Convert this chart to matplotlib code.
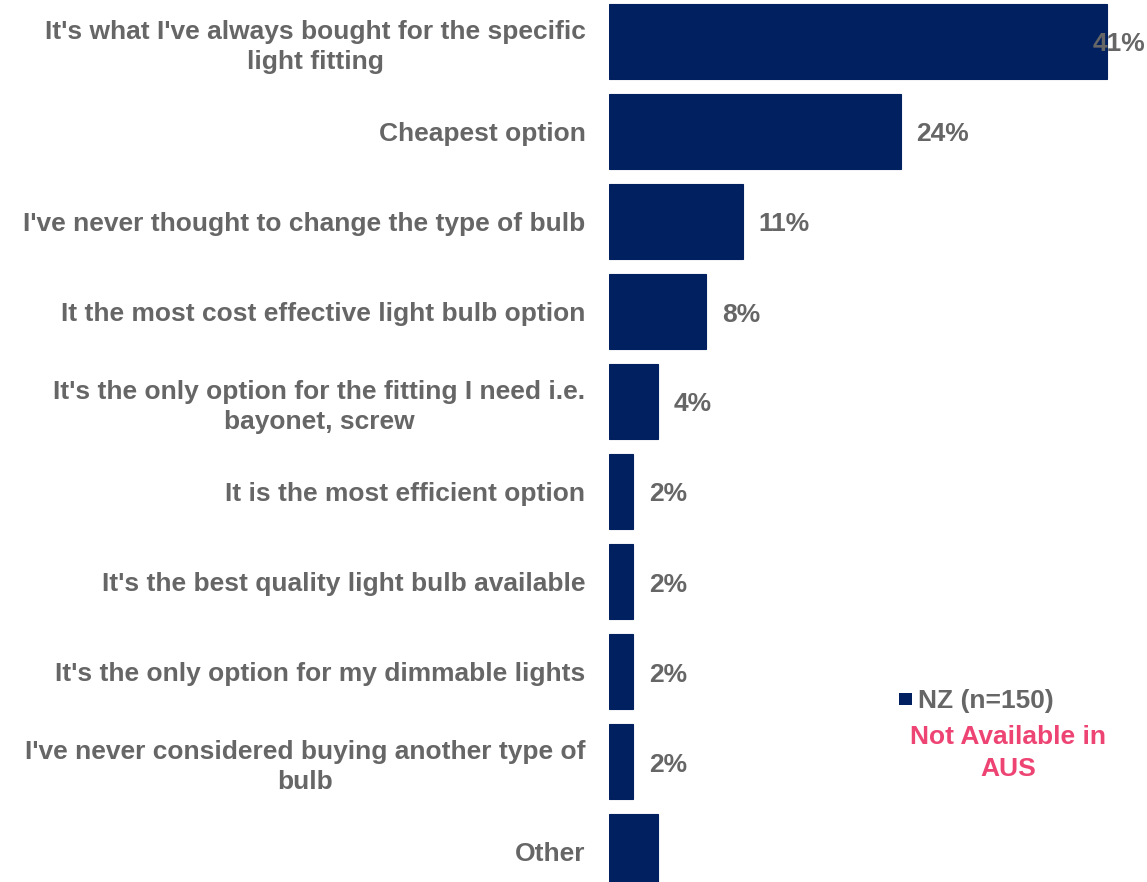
import matplotlib
matplotlib.use("Agg")
import matplotlib.pyplot as plt
from matplotlib.patches import Rectangle

plt.rcParams['font.family'] = ['Liberation Sans', 'DejaVu Sans']

categories = [
    "It's what I've always bought for the specific\nlight fitting",
    "Cheapest option",
    "I've never thought to change the type of bulb",
    "It the most cost effective light bulb option",
    "It's the only option for the fitting I need i.e.\nbayonet, screw",
    "It is the most efficient option",
    "It's the best quality light bulb available",
    "It's the only option for my dimmable lights",
    "I've never considered buying another type of\nbulb",
    "Other",
]
values = [41, 24, 11, 8, 4, 2, 2, 2, 2, 4]
value_labels = ["41%", "24%", "11%", "8%", "4%", "2%", "2%", "2%", "2%", None]

series_name = "NZ (n=150)"
note_text = "Not Available in\nAUS"

NAVY = "#002060"
GRAY = "#666666"
PINK = "#EE4473"
FS = 19

W, H = 1147, 882
fig = plt.figure(figsize=(W / 100, H / 100), dpi=100)
ax_left = 609 / W
ax = fig.add_axes([ax_left, 0, 1 - ax_left, 1])

px_per_unit = 12.15
xmax = (W - 609) / px_per_unit
ax.set_xlim(0, xmax)
# rows are 90 px apart; first row centred 41.5 px from the top
row_px = 90.0
top = -41.5 / row_px
bottom = (H - 41.5) / row_px
ax.set_ylim(bottom, top)

ypos = list(range(len(categories)))
ax.barh(ypos, values, height=75 / row_px, color=NAVY, edgecolor=NAVY, linewidth=0.8)

ax.set_yticks(ypos)
ax.set_yticklabels(categories, fontsize=FS, fontweight='bold', color=GRAY,
                   multialignment='center', linespacing=1.3)
ax.tick_params(axis='y', length=0, pad=17)
ax.set_xticks([])
for s in ax.spines.values():
    s.set_visible(False)

offset = 16 / px_per_unit
label_w = 52 / px_per_unit
dy = 3 / row_px
for y, v, lab in zip(ypos, values, value_labels):
    if lab is None:
        continue
    if v + offset + label_w > xmax:
        ax.text(xmax - 2 / px_per_unit, y + dy, lab, ha='right', va='center',
                fontsize=FS, fontweight='bold', color=GRAY)
    else:
        ax.text(v + offset, y + dy, lab, ha='left', va='center',
                fontsize=FS, fontweight='bold', color=GRAY)

# legend: square key with series name, then availability note
fig.add_artist(Rectangle((899 / W, 1 - 705 / H), 13 / W, 12 / H,
                         transform=fig.transFigure, facecolor=NAVY,
                         edgecolor='none'))
fig.text(918 / W, 1 - 701 / H, series_name, ha='left', va='center',
         fontsize=FS, fontweight='bold', color=GRAY)
fig.text(1008 / W, 1 - 753 / H, note_text, ha='center', va='center',
         fontsize=FS, fontweight='bold', color=PINK, linespacing=1.45)

fig.savefig("out.png", dpi=100)
